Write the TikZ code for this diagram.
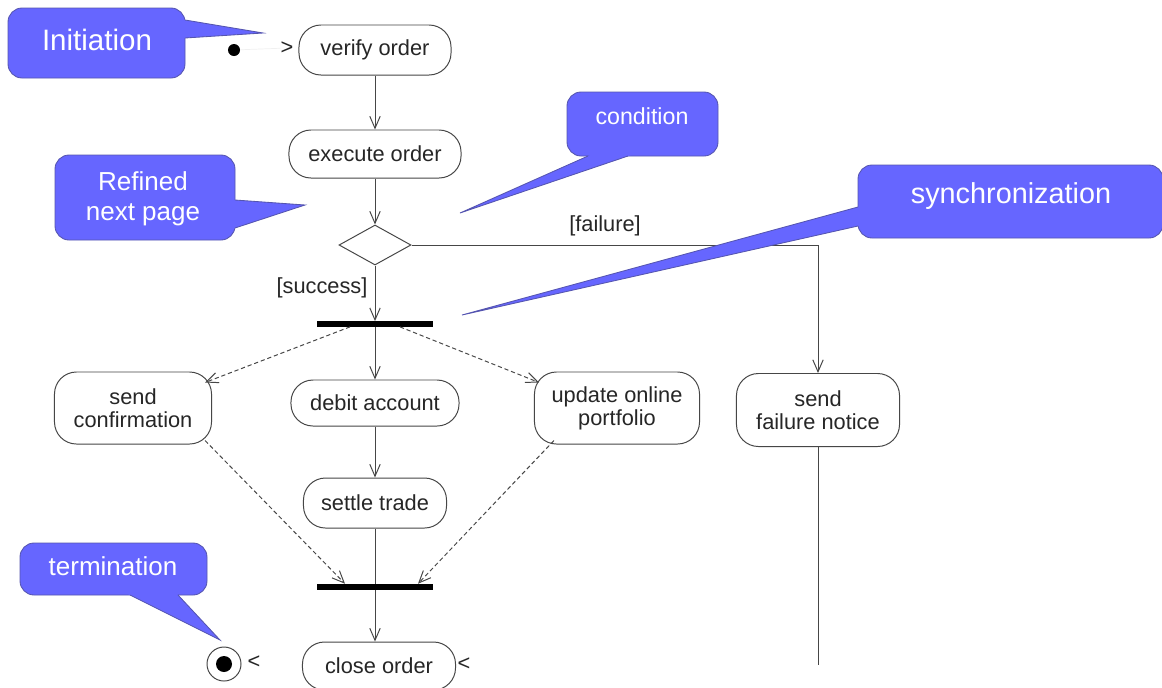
\documentclass[tikz,border=0pt]{standalone}
\usepackage{fontspec}
\setmainfont{Liberation Sans}
\usetikzlibrary{arrows.meta,shapes.geometric,calc}
\definecolor{cofill}{RGB}{102,102,255}
\definecolor{cobdr}{RGB}{85,85,175}
\definecolor{ln}{RGB}{70,70,70}
\newcommand{\mypointer}[3]{%
  \fill[cofill] (#2) -- ($(#2)!1.08!(#1)$) -- ($(#2)!1.08!(#3)$) -- cycle;
  \draw[coedge] (#1) -- (#2) -- (#3);}
\begin{document}
\begin{tikzpicture}[x=0.025cm,y=-0.025cm,
  act/.style={draw=ln, line width=0.7pt, rounded corners=0.55cm, align=center,
    font=\fontsize{15.5}{16.5}\selectfont, text=black!85, inner sep=0pt},
  syncbar/.style={fill=black, inner sep=0pt, minimum width=2.9cm, minimum height=0.13cm},
  flow/.style={draw=ln, line width=0.7pt, -{Straight Barb[length=3mm,width=2.6mm]}},
  dflow/.style={flow, dash pattern=on 3pt off 2pt},
  plain/.style={draw=ln, line width=0.7pt},
  glabel/.style={font=\fontsize{15.5}{16.5}\selectfont, text=black!85, inner sep=0pt},
  cobox/.style={fill=cofill, draw=cobdr, line width=0.6pt, rounded corners=10pt},
  coedge/.style={draw=cobdr, line width=0.6pt},
  ctext/.style={text=white, align=center, inner sep=0pt}
]
\useasboundingbox (0,0) rectangle (1162,687);
\fill[white] (0,0) rectangle (1162,687);

% ---------- activity nodes ----------
\node[circle, fill=black, minimum size=0.3cm, inner sep=0pt] (start) at (234,50) {};
\node[glabel] (gt) at (287,48) {>};
\node[act, minimum width=3.8cm, minimum height=1.25cm] (verify) at (375,50) {verify order};
\node[act, minimum width=4.3cm, minimum height=1.2cm] (execute) at (375,154) {execute order};
\node[diamond, draw=ln, line width=0.7pt, minimum width=1.8cm, minimum height=1.0cm,
      inner sep=0pt, aspect=1.8] (dec) at (375,245) {};
\node[syncbar] (bar1) at (375,324) {};
\node[act, minimum width=3.925cm, minimum height=1.8cm] (sendconf) at (133,408) {send\\confirmation};
\node[act, minimum width=4.2cm, minimum height=1.15cm] (debit) at (375,403) {debit account};
\node[act, minimum width=4.125cm, minimum height=1.8cm] (update) at (617,408) {update online\\portfolio};
\node[act, minimum width=4.075cm, minimum height=1.825cm] (failure) at (818,410) {send\\failure notice};
\node[act, minimum width=3.575cm, minimum height=1.25cm] (settle) at (375,503) {settle trade};
\node[syncbar, minimum height=0.15cm] (bar2) at (375,587) {};
\node[act, minimum width=3.825cm, minimum height=1.2cm] (close) at (379,666) {close order};
\node[glabel] (lt2) at (464,664) {<};
\node[circle, draw=ln, line width=0.7pt, minimum size=0.85cm, inner sep=0pt] (fin) at (224,664) {};
\node[circle, fill=black, minimum size=0.4cm, inner sep=0pt] (finin) at (fin) {};
\node[glabel] (lt1) at (254,662) {<};
\coordinate (fend) at (818,665);

% ---------- connectors ----------
\draw[black!6, line width=0.5pt] (start) -- (gt);
\draw[flow] (verify) -- (execute);
\draw[flow] (execute) -- (dec);
\draw[flow] (dec.east) -| (failure.north);
\draw[flow] (dec) -- (bar1);
\draw[dflow] ($(bar1.south)+(-25,0)$) -- ($(sendconf.north east)+(-7,11)$);
\draw[flow] (bar1) -- (debit);
\draw[dflow] ($(bar1.south)+(25,0)$) -- ($(update.north west)+(5,11)$);
\draw[flow] (debit) -- (settle);
\draw[plain] (settle) -- (bar2);
\draw[dflow] ($(sendconf.south east)+(-7,-4)$) -- ($(bar2.north)+(-30,0)$);
\draw[dflow] ($(update.south west)+(20,-4)$) -- ($(bar2.north)+(43,0)$);
\draw[flow] (bar2) -- (bar2 |- close.north);
\draw[plain] (failure.south) -- (failure.south |- fend);

\node[glabel] (lfail) at (605,226) {[failure]};
\node[glabel] (lsucc) at (322,288) {[success]};

% ---------- callouts ----------
% Initiation
\draw[cobox] (8,8) rectangle (185,78);
\coordinate (ia) at (185,20); \coordinate (it) at (263,33); \coordinate (ib) at (185,38);
\mypointer{ia}{it}{ib}
\node[ctext, font=\fontsize{21}{24}\selectfont] (tinit) at (97,40) {Initiation};

% Refined next page
\draw[cobox] (55,155) rectangle (235,240);
\coordinate (ra) at (235,200); \coordinate (rt) at (305,205); \coordinate (rb) at (235,228);
\mypointer{ra}{rt}{rb}
\node[ctext, font=\fontsize{18.5}{21}\selectfont] (tref) at (143,199) {Refined\\next page};

% condition
\draw[cobox] (567,92) rectangle (718,156);
\coordinate (ca) at (588,156); \coordinate (ct) at (460,213); \coordinate (cb) at (628,156);
\mypointer{ca}{ct}{cb}
\node[ctext, font=\fontsize{16.5}{19}\selectfont] (tcond) at (642,116) {condition};

% synchronization
\draw[cobox] (858,165) rectangle (1163,238);
\coordinate (sa) at (858,207); \coordinate (st) at (462,315); \coordinate (sb) at (858,226);
\mypointer{sa}{st}{sb}
\node[ctext, font=\fontsize{20.5}{23}\selectfont] (tsync) at (1011,196) {synchronization};

% termination
\draw[cobox] (20,543) rectangle (207,595);
\coordinate (ta) at (130,595); \coordinate (tt) at (220,640); \coordinate (tb) at (178,595);
\mypointer{ta}{tt}{tb}
\node[ctext, font=\fontsize{18.5}{21}\selectfont] (tterm) at (113,566) {termination};
\end{tikzpicture}
\end{document}
